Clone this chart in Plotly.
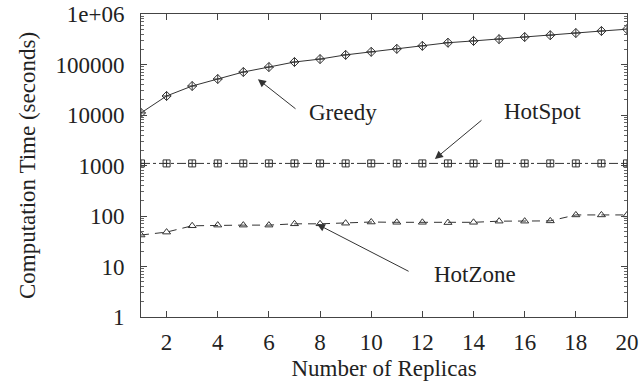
import plotly.graph_objects as go

replicas = list(range(1, 21))
greedy = [11000, 23800, 37500, 51600, 71000, 89000, 112000, 128000, 155000, 178000,
          204000, 234000, 270000, 293000, 318000, 350000, 380000, 420000, 460000, 500000]
hotspot = [1100] * 20
hotzone = [42, 48, 64, 66, 66, 66, 70, 70, 72, 76, 75, 75, 74, 75, 79, 79, 80, 105, 105, 105]

y_tickvals = [1, 10, 100, 1000, 10000, 100000, 1000000]
y_ticktext = ["1", "10", "100", "1000", "10000", "100000", "1e+06"]
x_tickvals = list(range(2, 21, 2))
minor_vals = [m * 10 ** d for d in range(0, 6) for m in range(2, 10)]

FONT = "Liberation Serif"
LC = "#333333"
TC = "#222222"
FS = 23

fig = go.Figure()
fig.add_trace(go.Scatter(x=replicas, y=greedy, mode="lines+markers", name="Greedy",
                         line=dict(color=LC, width=1),
                         marker=dict(symbol="diamond-cross-open", size=7, color=LC, line=dict(width=1))))
fig.add_trace(go.Scatter(x=replicas, y=hotspot, mode="lines+markers", name="HotSpot",
                         line=dict(color=LC, width=1, dash="dashdot"),
                         marker=dict(symbol="square-cross-open", size=7, color=LC, line=dict(width=1))))
fig.add_trace(go.Scatter(x=replicas, y=hotzone, mode="lines+markers", name="HotZone",
                         line=dict(color=LC, width=1, dash="8px,6px"),
                         marker=dict(symbol="triangle-up-open", size=7, color=LC, line=dict(width=1))))

arrows = [
    # (head_x, head_logy, tail_x, tail_logy, text, text_x, text_logy)
    (5.57, 4.71, 7.10, 4.10, "Greedy", 7.49, 4.04),
    (12.49, 3.13, 14.37, 3.92, "HotSpot", 15.11, 4.06),
    (7.88, 1.84, 11.52, 0.89, "HotZone", 12.38, 0.85),
]
for hx, hy, tx, ty, txt, lx, ly in arrows:
    fig.add_annotation(x=hx, y=hy, ax=tx, ay=ty, xref="x", yref="y", axref="x", ayref="y",
                       text="", showarrow=True, arrowhead=2, arrowsize=1.6, arrowwidth=1,
                       arrowcolor=LC)
    fig.add_annotation(x=lx, y=ly, xref="x", yref="y", text=txt, showarrow=False,
                       xanchor="left", yanchor="middle",
                       font=dict(family=FONT, size=FS, color=TC))

fig.update_xaxes(range=[1, 20], tickvals=x_tickvals, ticks="inside", ticklen=6,
                 tickcolor="#444", showline=True, linecolor="#444", linewidth=1,
                 mirror="ticks", showgrid=False, zeroline=False, automargin=False,
                 ticklabelstandoff=4,
                 tickfont=dict(family=FONT, size=FS, color=TC),
                 title=dict(text="Number of Replicas", font=dict(family=FONT, size=FS, color=TC),
                            standoff=6))
fig.update_yaxes(type="log", range=[0, 6], tickvals=y_tickvals, ticktext=y_ticktext,
                 ticks="inside", ticklen=6, tickcolor="#444",
                 minor=dict(tickvals=minor_vals, ticks="inside", ticklen=3, tickcolor="#666",
                            showgrid=False),
                 showline=True, linecolor="#444", linewidth=1, mirror="ticks",
                 showgrid=False, zeroline=False, automargin=False,
                 ticklabelstandoff=11,
                 tickfont=dict(family=FONT, size=FS, color=TC),
                 title=dict(text="Computation Time (seconds)",
                            font=dict(family=FONT, size=FS, color=TC), standoff=13))

fig.update_layout(width=643, height=384, showlegend=False,
                  margin=dict(l=141, r=16, t=14, b=67, autoexpand=False),
                  plot_bgcolor="white", paper_bgcolor="white")

fig.write_html("out.html", config={"displayModeBar": False},
               post_script="document.body.style.margin='0px';")
